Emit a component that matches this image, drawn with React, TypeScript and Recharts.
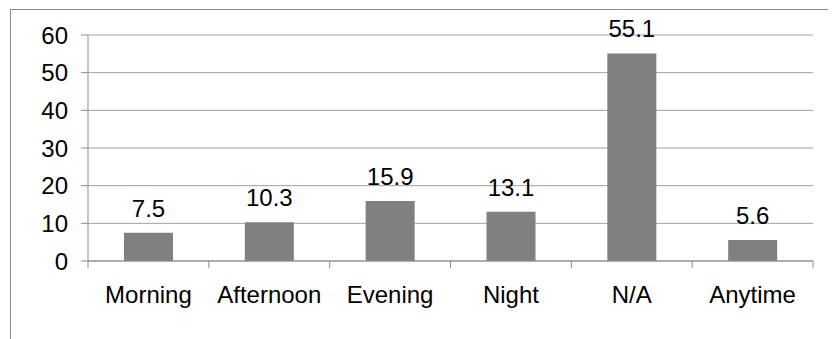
import React from 'react';
import { BarChart, Bar, XAxis, YAxis, CartesianGrid, LabelList } from 'recharts';

const periods = ['Morning', 'Afternoon', 'Evening', 'Night', 'N/A', 'Anytime'];
const shares = [7.5, 10.3, 15.9, 13.1, 55.1, 5.6];
const yTicks = [0, 10, 20, 30, 40, 50, 60];

const data = periods.map((name, i) => ({ name, value: shares[i] }));

const FONT = 'Arial, "Liberation Sans", sans-serif';
const FONT_SIZE = 24;
const AXIS_GRAY = '#8c8c8c';
const TICK_SIZE = 7;
const TICK_MARGIN = 18;

// category label plus tick marks on the band edges
const BandTick = (props: any) => {
  const { x, y, payload, index } = props;
  const half = payload.offset || 0;
  const y0 = y - TICK_SIZE - TICK_MARGIN;
  return (
    <g>
      {index === 0 && (
        <line x1={x - half} x2={x - half} y1={y0} y2={y0 + TICK_SIZE} stroke={AXIS_GRAY} />
      )}
      <line x1={x + half} x2={x + half} y1={y0} y2={y0 + TICK_SIZE} stroke={AXIS_GRAY} />
      <text x={x} y={y} dy="0.71em" textAnchor="middle" fill="#000" fontSize={FONT_SIZE} fontFamily={FONT}>
        {payload.value}
      </text>
    </g>
  );
};

export default function App() {
  return (
    <div
      style={{
        marginLeft: 2,
        marginTop: 1,
        width: 830,
        height: 340,
        borderLeft: `1px solid ${AXIS_GRAY}`,
        borderTop: `1px solid ${AXIS_GRAY}`,
        background: '#fff',
      }}
    >
      <BarChart
        width={825}
        height={330}
        data={data}
        margin={{ top: 25, right: 23, left: 0, bottom: 39 }}
      >
        <CartesianGrid vertical={false} stroke="#a0a0a0" />
        <XAxis
          dataKey="name"
          height={40}
          axisLine={{ stroke: AXIS_GRAY }}
          tickLine={false}
          tickSize={TICK_SIZE}
          tickMargin={TICK_MARGIN}
          interval={0}
          tick={<BandTick />}
        />
        <YAxis
          width={77}
          domain={[0, 60]}
          ticks={yTicks}
          axisLine={{ stroke: AXIS_GRAY }}
          tickLine={{ stroke: AXIS_GRAY }}
          tickSize={TICK_SIZE}
          tickMargin={13}
          tick={{ fill: '#000', fontSize: FONT_SIZE, fontFamily: FONT }}
        />
        <Bar dataKey="value" fill="#808080" barSize={49} isAnimationActive={false}>
          <LabelList
            dataKey="value"
            position="top"
            offset={16}
            fill="#000"
            fontSize={FONT_SIZE}
            fontFamily={FONT}
          />
        </Bar>
      </BarChart>
    </div>
  );
}
